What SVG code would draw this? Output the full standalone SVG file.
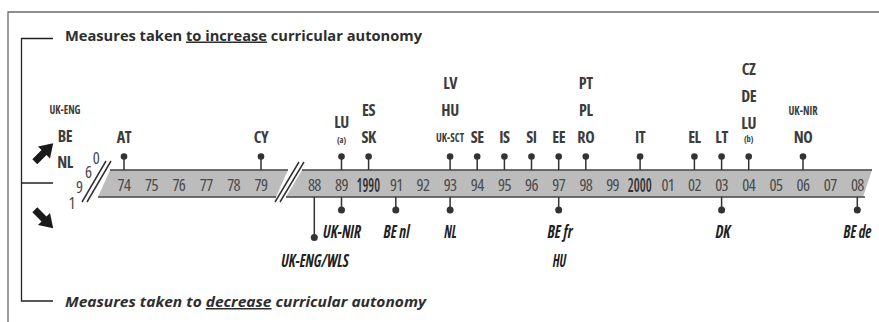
<svg xmlns="http://www.w3.org/2000/svg" width="879" height="322" viewBox="0 0 879 322">
  <style>
    .frame { fill: none; stroke: #6a6a6a; stroke-width: 1.3; }
    .bracket { fill: none; stroke: #222; stroke-width: 1.3; }
    .band { fill: #bcbcbc; stroke: none; }
    .edge { stroke: #444; stroke-width: 1.6; fill: none; }
    .slash { stroke: #333; stroke-width: 1.5; fill: none; }
    .stem { stroke: #333; stroke-width: 1.5; }
    .dot { fill: #333; }
    .title { font-family: "Open Sans", "Liberation Sans", sans-serif; font-weight: bold; font-size: 15px; fill: #2e2e2e; }
    .cond { font-family: "Open Sans", "Liberation Sans", sans-serif; font-stretch: 75%; }
    .year { font-size: 16.5px; fill: #4a4a4a; text-anchor: middle; letter-spacing: -0.6px; }
    .yearbig { font-size: 20px; font-weight: 600; fill: #333; text-anchor: middle; }
    .up { font-size: 16px; font-weight: bold; fill: #3c3c3c; text-anchor: middle; letter-spacing: -0.4px; }
    .upsm { font-size: 13px; font-weight: bold; fill: #3c3c3c; text-anchor: middle; }
    .note { font-size: 8.5px; font-weight: bold; fill: #3c3c3c; text-anchor: middle; }
    .down { font-size: 18px; font-weight: bold; font-style: italic; fill: #222; text-anchor: middle; }
    .arrow { fill: #1a1a1a; }
  </style>
  <defs>
    <path id="arr" d="M0,-3.5 L13,-3.5 L13,-8.5 L26,0 L13,8.5 L13,3.5 L0,3.5 Z"/>
  </defs>

  <!-- outer frame -->
  <path class="frame" d="M879,12 L8,12 L8,322"/>

  <!-- bracket linking the two legends -->
  <path class="bracket" d="M53,38.5 L21.5,38.5 L21.5,301 L53,301 M21.5,183 L53,183"/>

  <!-- legends -->
  <text class="title" x="65" y="40.5" textLength="357" lengthAdjust="spacingAndGlyphs">Measures taken <tspan text-decoration="underline">to increase</tspan> curricular autonomy</text>
  <text class="title" x="65" y="307" font-style="italic" textLength="361" lengthAdjust="spacingAndGlyphs">Measures taken to <tspan text-decoration="underline">decrease</tspan> curricular autonomy</text>

  <!-- direction arrows -->
  <use href="#arr" class="arrow" transform="translate(44,152.5) rotate(-45) translate(-13,0)"/>
  <use href="#arr" class="arrow" transform="translate(44,219) rotate(45) translate(-13,0)"/>

  <!-- timeline band -->
  <g id="timeline" class="cond">
    <polygon class="band" points="110,170 288,170 276,197 98,197"/>
    <polygon class="band" points="302,170 872,170 863,197 286,197"/>
    <path class="edge" d="M110,170 L288,170 M98,197 L276,197 M302,170 L872,170 M286,197 L865,197"/>
    <path class="slash" d="M82,202 L106,161 M87,202 L111,161 M275,202 L299,162 M280,202 L304,162"/>
    <!-- 1960 along the first break -->
    <text class="year" x="96" y="163.5">0</text>
    <text class="year" x="88.3" y="177.5">6</text>
    <text class="year" x="79.3" y="192.5">9</text>
    <text class="year" x="71.7" y="208.5">1</text>
    <!-- years -->
    <text class="year" x="124" y="191">74</text>
    <text class="year" x="151.4" y="191">75</text>
    <text class="year" x="178.8" y="191">76</text>
    <text class="year" x="206.2" y="191">77</text>
    <text class="year" x="233.6" y="191">78</text>
    <text class="year" x="261" y="191">79</text>
    <text class="year" x="314.3" y="191">88</text>
    <text class="year" x="341.5" y="191">89</text>
    <text class="yearbig" x="368.3" y="192" textLength="23.5" lengthAdjust="spacingAndGlyphs">1990</text>
    <text class="year" x="396.3" y="191">91</text>
    <text class="year" x="422.9" y="191">92</text>
    <text class="year" x="450.1" y="191">93</text>
    <text class="year" x="477.2" y="191">94</text>
    <text class="year" x="504.4" y="191">95</text>
    <text class="year" x="531.5" y="191">96</text>
    <text class="year" x="558.7" y="191">97</text>
    <text class="year" x="585.8" y="191">98</text>
    <text class="year" x="612.6" y="191">99</text>
    <text class="yearbig" x="639.8" y="192" textLength="24" lengthAdjust="spacingAndGlyphs">2000</text>
    <text class="year" x="667.8" y="191">01</text>
    <text class="year" x="694.4" y="191">02</text>
    <text class="year" x="721.6" y="191">03</text>
    <text class="year" x="748.7" y="191">04</text>
    <text class="year" x="775.9" y="191">05</text>
    <text class="year" x="803" y="191">06</text>
    <text class="year" x="830.2" y="191">07</text>
    <text class="year" x="857.3" y="191">08</text>
  </g>

  <!-- pins on the timeline -->
  <g id="connectors">
    <!-- upward -->
    <path class="stem" d="M124,170V157 M261,170V157 M341.5,170V157 M368.6,170V157 M450.1,170V157 M477.2,170V157 M504.4,170V157 M531.5,170V157 M558.7,170V157 M585.8,170V157 M640.1,170V157 M694.4,170V157 M721.6,170V157 M748.7,170V157 M803,170V157"/>
    <g class="dot">
      <circle cx="124" cy="156.5" r="3.3"/>
      <circle cx="261" cy="156.5" r="3.3"/>
      <circle cx="341.5" cy="156.5" r="3.3"/>
      <circle cx="368.6" cy="156.5" r="3.3"/>
      <circle cx="450.1" cy="156.5" r="3.3"/>
      <circle cx="477.2" cy="156.5" r="3.3"/>
      <circle cx="504.4" cy="156.5" r="3.3"/>
      <circle cx="531.5" cy="156.5" r="3.3"/>
      <circle cx="558.7" cy="156.5" r="3.3"/>
      <circle cx="585.8" cy="156.5" r="3.3"/>
      <circle cx="640.1" cy="156.5" r="3.3"/>
      <circle cx="694.4" cy="156.5" r="3.3"/>
      <circle cx="721.6" cy="156.5" r="3.3"/>
      <circle cx="748.7" cy="156.5" r="3.3"/>
      <circle cx="803" cy="156.5" r="3.3"/>
    </g>
    <!-- downward -->
    <path class="stem" d="M314.3,197V237 M341.5,197V209 M395.8,197V209 M450.1,197V209 M558.7,197V209 M721.6,197V209 M857.3,197V209"/>
    <g class="dot">
      <circle cx="314.3" cy="237.5" r="3.5"/>
      <circle cx="341.5" cy="210" r="3.5"/>
      <circle cx="395.8" cy="210" r="3.5"/>
      <circle cx="450.1" cy="210" r="3.5"/>
      <circle cx="558.7" cy="210" r="3.5"/>
      <circle cx="721.6" cy="210" r="3.5"/>
      <circle cx="857.3" cy="210" r="3.5"/>
    </g>
  </g>

  <!-- increases -->
  <g class="cond">
    <g id="y1960-up">
      <text class="upsm" x="65" y="114.3" text-anchor="start" textLength="31" lengthAdjust="spacingAndGlyphs">UK-ENG</text>
      <text class="up" x="65" y="141.8" text-anchor="start">BE</text>
      <text class="up" x="65" y="167.5" text-anchor="start">NL</text>
    </g>
    <g id="y1974-up"><text class="up" x="124" y="142.5">AT</text></g>
    <g id="y1979-up"><text class="up" x="261" y="142.5">CY</text></g>
    <g id="y1989-up">
      <text class="up" x="341.5" y="127.5">LU</text>
      <text class="note" x="341.5" y="143">(a)</text>
    </g>
    <g id="y1990-up">
      <text class="up" x="368.6" y="115.8">ES</text>
      <text class="up" x="368.6" y="142.5">SK</text>
    </g>
    <g id="y1993-up">
      <text class="up" x="450.1" y="88.5">LV</text>
      <text class="up" x="450.1" y="115.5">HU</text>
      <text class="upsm" x="450.1" y="141.8" textLength="28" lengthAdjust="spacingAndGlyphs">UK-SCT</text>
    </g>
    <g id="y1994-up"><text class="up" x="477.2" y="142.5">SE</text></g>
    <g id="y1995-up"><text class="up" x="504.4" y="142.5">IS</text></g>
    <g id="y1996-up"><text class="up" x="531.5" y="142.5">SI</text></g>
    <g id="y1997-up"><text class="up" x="558.7" y="142.5">EE</text></g>
    <g id="y1998-up">
      <text class="up" x="585.8" y="88.5">PT</text>
      <text class="up" x="585.8" y="115.8">PL</text>
      <text class="up" x="585.8" y="142.5">RO</text>
    </g>
    <g id="y2000-up"><text class="up" x="640.1" y="142.5">IT</text></g>
    <g id="y2002-up"><text class="up" x="694.4" y="142.5">EL</text></g>
    <g id="y2003-up"><text class="up" x="721.6" y="142.5">LT</text></g>
    <g id="y2004-up">
      <text class="up" x="748.7" y="75">CZ</text>
      <text class="up" x="748.7" y="101.8">DE</text>
      <text class="up" x="748.7" y="128.5">LU</text>
      <text class="note" x="748.7" y="141.5">(b)</text>
    </g>
    <g id="y2006-up">
      <text class="upsm" x="803" y="115" textLength="29" lengthAdjust="spacingAndGlyphs">UK-NIR</text>
      <text class="up" x="803" y="142.5">NO</text>
    </g>
  </g>

  <!-- decreases -->
  <g class="cond">
    <g id="y1988-down"><text class="down" x="315" y="266.5" textLength="67.5" lengthAdjust="spacingAndGlyphs">UK-ENG/WLS</text></g>
    <g id="y1989-down"><text class="down" x="342" y="238.2" textLength="38" lengthAdjust="spacingAndGlyphs">UK-NIR</text></g>
    <g id="y1991-down"><text class="down" x="396.5" y="238.2" textLength="26" lengthAdjust="spacingAndGlyphs">BE nl</text></g>
    <g id="y1993-down"><text class="down" x="450.5" y="238.2" textLength="12.5" lengthAdjust="spacingAndGlyphs">NL</text></g>
    <g id="y1997-down">
      <text class="down" x="560" y="238.2" textLength="25" lengthAdjust="spacingAndGlyphs">BE fr</text>
      <text class="down" x="559.5" y="266.5" textLength="13.5" lengthAdjust="spacingAndGlyphs">HU</text>
    </g>
    <g id="y2003-down"><text class="down" x="723" y="238.2" textLength="15" lengthAdjust="spacingAndGlyphs">DK</text></g>
    <g id="y2008-down"><text class="down" x="857.5" y="238.2" textLength="28" lengthAdjust="spacingAndGlyphs">BE de</text></g>
  </g>
</svg>
